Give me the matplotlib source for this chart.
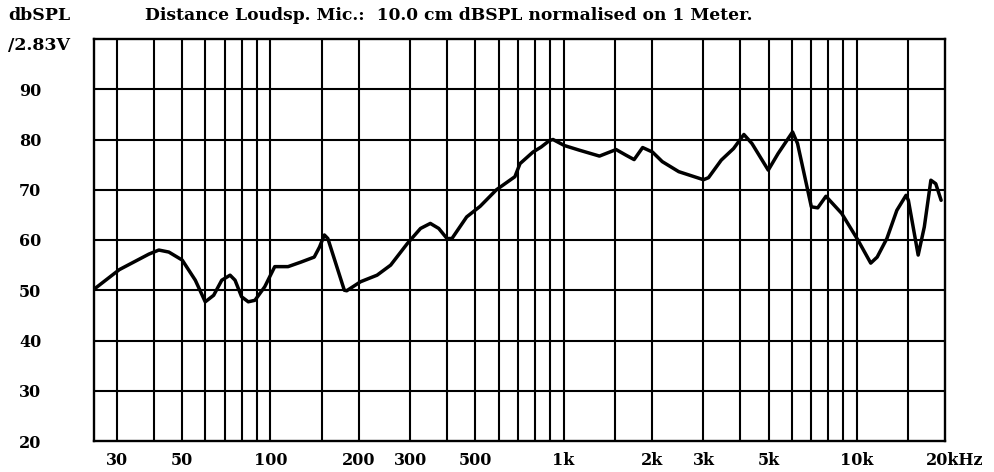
import matplotlib
matplotlib.use("Agg")
import matplotlib.pyplot as plt
import matplotlib.transforms as mtransforms

# ---- data ----
freq_hz = [25, 30.5, 38.5, 41.6, 45, 50, 55.4, 59.9, 64, 68.2, 72.8, 75.7, 79.7, 84, 88.5,
           95.6, 103.4, 114.8, 127, 141, 147, 152.7, 156.9, 178.6, 182, 203, 231, 257, 293,
           325, 351, 375, 400, 416, 467, 519, 590, 682, 710, 786, 838, 895, 920, 1006, 1128,
           1325, 1510, 1630, 1740, 1860, 2010, 2170, 2470, 3000, 3120, 3450, 3800, 4120, 4390,
           4990, 5390, 6040, 6280, 7000, 7360, 7850, 8880, 10090, 11160, 11740, 12670, 13700,
           14730, 15000, 16200, 17000, 17900, 18600, 19400]
spl_db = [50.2, 54.1, 57.2, 58.0, 57.6, 56.0, 52.0, 47.7, 49.0, 52.0, 53.0, 52.0, 48.7, 47.7, 48.0,
          50.7, 54.7, 54.7, 55.6, 56.6, 58.6, 61.0, 60.3, 50.0, 49.9, 51.7, 53.0, 55.0, 59.3,
          62.3, 63.3, 62.3, 60.3, 60.3, 64.6, 66.7, 70.0, 72.6, 75.2, 77.5, 78.5, 79.8, 80.0, 78.8, 77.9,
          76.7, 78.0, 76.9, 76.0, 78.4, 77.5, 75.6, 73.6, 72.0, 72.4, 75.9, 78.2, 81.0, 79.2,
          73.9, 77.2, 81.5, 79.2, 66.6, 66.4, 68.7, 65.3, 60.0, 55.4, 56.6, 60.3, 65.9,
          68.9, 67.9, 57.0, 62.6, 71.9, 71.2, 67.9]

grid_freqs = [30, 40, 50, 60, 70, 80, 90, 100, 150, 200, 300, 400, 500, 600, 700, 800, 900,
              1000, 1500, 2000, 3000, 4000, 5000, 6000, 7000, 8000, 9000, 10000, 15000]
xtick_vals = [30, 50, 100, 200, 300, 500, 1000, 2000, 3000, 5000, 10000, 20000]
xtick_labels = ["30", "50", "100", "200", "300", "500", "1k", "2k", "3k", "5k", "10k", "20kHz"]
ytick_vals = [20, 30, 40, 50, 60, 70, 80, 90]
ytick_labels = ["20", "30", "40", "50", "60", "70", "80", "90"]
title_text = "Distance Loudsp. Mic.:  10.0 cm dBSPL normalised on 1 Meter."

FONT = "DejaVu Serif"

fig = plt.figure(figsize=(9.94, 4.72), dpi=100)
ax = fig.add_axes([94/994, (472-441)/472, (945-94)/994, (441-39)/472])

ax.set_xscale("log")
ax.set_xlim(25, 20000)
ax.set_ylim(20, 100)

for f in grid_freqs:
    ax.axvline(f, color="black", lw=1.5, zorder=1)
for y in ytick_vals[1:]:
    ax.axhline(y, color="black", lw=1.5, zorder=1)

ax.plot(freq_hz, spl_db, color="black", lw=2.5, solid_joinstyle="round",
        solid_capstyle="round", zorder=3)

for s in ax.spines.values():
    s.set_linewidth(1.7)
    s.set_color("black")

ax.set_xticks([])
ax.set_yticks(ytick_vals)
ax.set_yticklabels(ytick_labels, fontfamily=FONT, fontweight="bold", fontsize=11.5)
ax.tick_params(axis="y", length=0, pad=38)
ax.minorticks_off()
ax.xaxis.set_minor_locator(matplotlib.ticker.NullLocator())

trans = mtransforms.blended_transform_factory(ax.transData, ax.transAxes)
for v, lab in zip(xtick_vals, xtick_labels):
    off = mtransforms.ScaledTranslation(10/100 if lab == "20kHz" else 0, 0, fig.dpi_scale_trans)
    ax.text(v, -0.048, lab, transform=trans + off, ha="center", va="center",
            fontfamily=FONT, fontweight="bold", fontsize=11.5)

fig.text(8/994, 1-16/472, "dbSPL", ha="left", va="center",
         fontfamily=FONT, fontweight="bold", fontsize=12.5)
fig.text(8/994, 1-45/472, "/2.83V", ha="left", va="center",
         fontfamily=FONT, fontweight="bold", fontsize=12.5)
fig.text(145/994, 1-16/472, title_text, ha="left", va="center",
         fontfamily=FONT, fontweight="bold", fontsize=12.3)

fig.savefig("out.png", dpi=100, facecolor="white")
